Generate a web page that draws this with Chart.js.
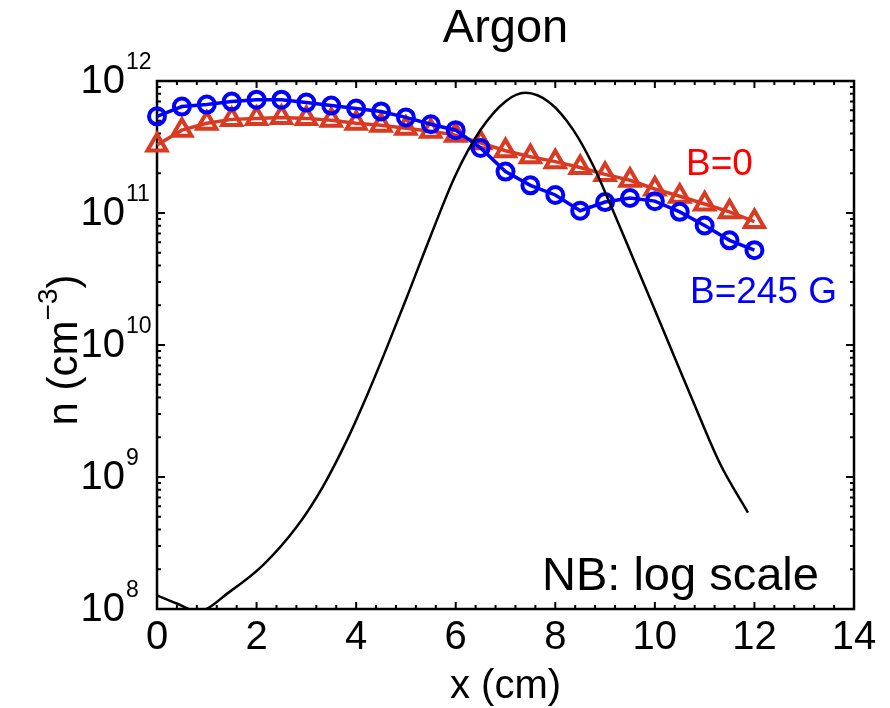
<!DOCTYPE html>
<html><head><meta charset="utf-8">
<script src="https://cdn.jsdelivr.net/npm/chart.js@4.4.1/dist/chart.umd.min.js"></script>
<style>html,body{margin:0;padding:0;background:#fff;}#wrap{width:890px;height:708px;}</style>
</head><body><div id="wrap"><canvas id="c" width="890" height="708"></canvas></div>
<script>
// ---- data ----
const xMarkers = [0,0.5,1,1.5,2,2.5,3,3.5,4,4.5,5,5.5,6,6.5,7,7.5,8,8.5,9,9.5,10,10.5,11,11.5,12];
const nB0 = [3.28e11,4.24e11,4.78e11,5.12e11,5.21e11,5.30e11,5.21e11,5.04e11,4.78e11,4.62e11,4.39e11,4.17e11,3.89e11,3.40e11,2.96e11,2.67e11,2.45e11,2.21e11,1.96e11,1.77e11,1.52e11,1.34e11,1.17e11,1.02e11,8.61e10];
const nB245 = [5.40e11,6.40e11,6.63e11,6.98e11,7.22e11,7.22e11,6.86e11,6.51e11,6.19e11,5.88e11,5.30e11,4.70e11,4.24e11,3.11e11,2.06e11,1.62e11,1.37e11,1.04e11,1.21e11,1.30e11,1.23e11,1.02e11,8.04e10,6.21e10,5.23e10];
const xProfile = [0,0.4,0.82,1.47,2.13,2.81,3.33,3.82,4.22,4.62,5.02,5.5,6.0,6.5,7.0,7.4,7.89,8.35,8.76,9.16,9.56,9.96,10.36,10.76,11.31,11.87];
const nProfile = [1.27e8,1.10e8,9.6e7,1.36e8,2.15e8,4.21e8,8.43e8,1.92e9,4.17e9,9.64e9,2.31e10,6.76e10,1.95e11,4.27e11,7.0e11,8.13e11,6.85e11,4.32e11,2.29e11,1.04e11,4.57e10,2.0e10,8.71e9,3.80e9,1.26e9,5.37e8];
const yDecades = [8,9,10,11,12];
const xTickStep = 2;

const FF = '"Liberation Sans", Arial, Helvetica, sans-serif';
const RED = '#d83a22', BLUE = '#0000ff';

const pts = (xs, ys) => xs.map((x, i) => ({x, y: ys[i]}));

const frame = {
  id: 'frame',
  beforeDatasetsDraw(chart) {
    const {ctx, chartArea: a, scales: {x, y}} = chart;
    ctx.save();
    ctx.strokeStyle = '#000';
    ctx.lineWidth = 2;
    ctx.beginPath();
    for (let i = 0; i <= 35; i++) {
      const v = i * 0.4;
      const p = x.getPixelForValue(v);
      const L = (i % 5 === 0) ? 7 : 4;
      ctx.moveTo(p, a.bottom); ctx.lineTo(p, a.bottom - L);
      ctx.moveTo(p, a.top); ctx.lineTo(p, a.top + L);
    }
    for (let d = 8; d <= 11; d++) {
      for (let m = 1; m <= 9; m++) {
        const p = y.getPixelForValue(m * Math.pow(10, d));
        const L = m === 1 ? 8 : 4;
        ctx.moveTo(a.left, p); ctx.lineTo(a.left + L, p);
        ctx.moveTo(a.right, p); ctx.lineTo(a.right - L, p);
      }
    }
    ctx.stroke();
    ctx.lineWidth = 2.5;
    ctx.strokeRect(a.left, a.top, a.right - a.left, a.bottom - a.top);
    ctx.restore();
  },
  afterDraw(chart) {
    const {ctx, scales: {y}} = chart;
    ctx.save();
    ctx.fillStyle = '#000';
    for (const d of yDecades) {
      const p = y.getPixelForValue(Math.pow(10, d));
      ctx.font = '40px ' + FF; ctx.textAlign = 'right'; ctx.textBaseline = 'middle';
      ctx.fillText('10', 125, p + 1);
      ctx.font = '23px ' + FF; ctx.textAlign = 'left';
      ctx.fillText(String(d), 126, p - 18);
    }
    ctx.save();
    ctx.translate(77, 350);
    ctx.rotate(-Math.PI / 2);
    ctx.textBaseline = 'alphabetic'; ctx.textAlign = 'left';
    const t1 = 'n (cm', t2 = '\u22123', t3 = ')';
    ctx.font = '42px ' + FF; const w1 = ctx.measureText(t1).width, w3 = ctx.measureText(t3).width;
    ctx.font = '28px ' + FF; const w2 = ctx.measureText(t2).width;
    let sx = -(w1 + w2 + w3) / 2;
    ctx.font = '42px ' + FF; ctx.fillText(t1, sx, 0); sx += w1;
    ctx.font = '28px ' + FF; ctx.fillText(t2, sx, -20); sx += w2;
    ctx.font = '42px ' + FF; ctx.fillText(t3, sx, 0);
    ctx.restore();
    ctx.textAlign = 'left'; ctx.textBaseline = 'alphabetic';
    ctx.font = '47px ' + FF; ctx.fillStyle = '#000';
    ctx.fillText('NB: log scale', 542, 590);
    ctx.font = '37px ' + FF; ctx.fillStyle = '#ff0000';
    ctx.fillText('B=0', 686, 175);
    ctx.fillStyle = BLUE;
    ctx.fillText('B=245 G', 690, 303);
    ctx.restore();
  }
};

new Chart(document.getElementById('c'), {
  type: 'line',
  data: {
    datasets: [
      {label: 'profile', data: pts(xProfile, nProfile), borderColor: '#000', borderWidth: 2.5,
       pointRadius: 0, cubicInterpolationMode: 'monotone', fill: false, order: 0},
      {label: 'B=245 G', data: pts(xMarkers, nB245), borderColor: BLUE, borderWidth: 3.5,
       pointStyle: 'circle', pointRadius: 8, pointBorderWidth: 4, pointBorderColor: BLUE,
       pointBackgroundColor: 'rgba(0,0,0,0)', fill: false, order: 1, clip: false},
      {label: 'B=0', data: pts(xMarkers, nB0), borderColor: RED, borderWidth: 3.5,
       pointStyle: 'triangle', pointRadius: 11, pointBorderWidth: 4, pointBorderColor: RED,
       pointBackgroundColor: 'rgba(0,0,0,0)', fill: false, order: 2, clip: false}
    ]
  },
  options: {
    responsive: false, animation: false, devicePixelRatio: 1,
    layout: {padding: {left: 157, right: 36, top: 0, bottom: 0}},
    plugins: {
      legend: {display: false}, tooltip: {enabled: false},
      title: {display: true, text: 'Argon', color: '#000',
              font: {family: FF, size: 47, weight: 'normal', lineHeight: 1},
              padding: {top: 6, bottom: 28}}
    },
    scales: {
      x: {type: 'linear', min: 0, max: 14,
          grid: {display: false, drawTicks: false}, border: {display: false},
          ticks: {stepSize: xTickStep, color: '#000', padding: 9, maxRotation: 0, autoSkip: false,
                  font: {family: FF, size: 40, lineHeight: 1}},
          title: {display: true, text: 'x (cm)', color: '#000',
                  font: {family: FF, size: 40, lineHeight: 1}, padding: {top: 0, bottom: 1}}},
      y: {type: 'logarithmic', min: 1e8, max: 1e12, display: false}
    }
  },
  plugins: [frame]
});
</script></body></html>
